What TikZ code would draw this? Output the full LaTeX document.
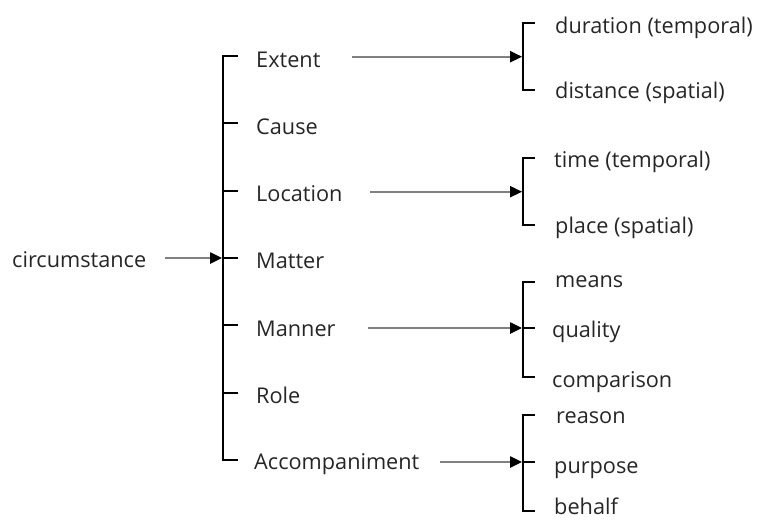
\documentclass[tikz,border=0pt]{standalone}
\usepackage{fontspec}
\setmainfont{Open Sans}
\usetikzlibrary{arrows.meta}
\begin{document}
\begin{tikzpicture}[x=1pt,y=-1pt,
  lbl/.style={anchor=base west, inner sep=0pt, font=\fontsize{21.7}{25}\selectfont, text=black!85},
  brace/.style={line width=1.9pt, draw=black},
  feed/.style={line width=2.2pt, draw=black!50, -{Triangle[color=black,length=12pt,width=11pt]}}]
\useasboundingbox (0,0) rectangle (760,520);

% root
\node[lbl] (circ) at (12,267) {circumstance};

% first level
\node[lbl] (ext) at (256,67)  {Extent};
\node[lbl] (cau) at (256,134) {Cause};
\node[lbl] (loc) at (256,201) {Location};
\node[lbl] (mat) at (256,268) {Matter};
\node[lbl] (man) at (256,336) {Manner};
\node[lbl] (rol) at (256,403) {Role};
\node[lbl] (acc) at (254,469) {Accompaniment};

% second level
\node[lbl] (dur) at (555,33)  {duration (temporal)};
\node[lbl] (dis) at (555,98)  {distance (spatial)};
\node[lbl] (tim) at (554,167) {time (temporal)};
\node[lbl] (pla) at (555,233) {place (spatial)};
\node[lbl] (mea) at (555,287) {means};
\node[lbl] (qua) at (552,337) {quality};
\node[lbl] (com) at (552,387) {comparison};
\node[lbl] (rea) at (556,423) {reason};
\node[lbl] (pur) at (554,473) {purpose};
\node[lbl] (beh) at (554,514.5) {behalf};

% main bracket
\coordinate (b1) at (223,56);
\coordinate (b2) at (223,123.3);
\coordinate (b3) at (223,190.7);
\coordinate (b4) at (223,258);
\coordinate (b5) at (223,325.3);
\coordinate (b6) at (223,392.7);
\coordinate (b7) at (223,460);
\draw[brace] ([xshift=15pt]b1) -- (b1) -- (b7) -- ([xshift=15pt]b7);
\foreach \k in {2,...,6} \draw[brace] (b\k) -- ([xshift=15pt]b\k);

% sub brackets
\coordinate (e1) at (523,23.3);  \coordinate (em) at (523,56.7);  \coordinate (e2) at (523,90);
\coordinate (l1) at (523,158.3); \coordinate (lm) at (523,191.7); \coordinate (l2) at (523,225);
\coordinate (n1) at (523,282);   \coordinate (nm) at (523,328);   \coordinate (n2) at (523,377);
\coordinate (a1) at (523,415);   \coordinate (am) at (523,462);   \coordinate (a2) at (523,511);
\draw[brace] ([xshift=12pt]e1) -- (e1) -- (e2) -- ([xshift=12pt]e2);
\draw[brace] ([xshift=12pt]l1) -- (l1) -- (l2) -- ([xshift=12pt]l2);
\draw[brace] ([xshift=12pt]n1) -- (n1) -- (n2) -- ([xshift=12pt]n2);
\draw[brace] (nm) -- ([xshift=12pt]nm);
\draw[brace] ([xshift=12pt]a1) -- (a1) -- (a2) -- ([xshift=12pt]a2);
\draw[brace] (am) -- ([xshift=12pt]am);

% arrow starts
\coordinate (cs) at (165,258);
\coordinate (es) at (352,56.7);
\coordinate (ls) at (370,191.7);
\coordinate (ms) at (368,328);
\coordinate (as) at (440,462);

\draw[feed] (cs) -- ([xshift=-0.9pt]b4);
\draw[feed] (es) -- ([xshift=-0.9pt]em);
\draw[feed] (ls) -- ([xshift=-0.9pt]lm);
\draw[feed] (ms) -- ([xshift=-0.9pt]nm);
\draw[feed] (as) -- ([xshift=-0.9pt]am);
\end{tikzpicture}
\end{document}
